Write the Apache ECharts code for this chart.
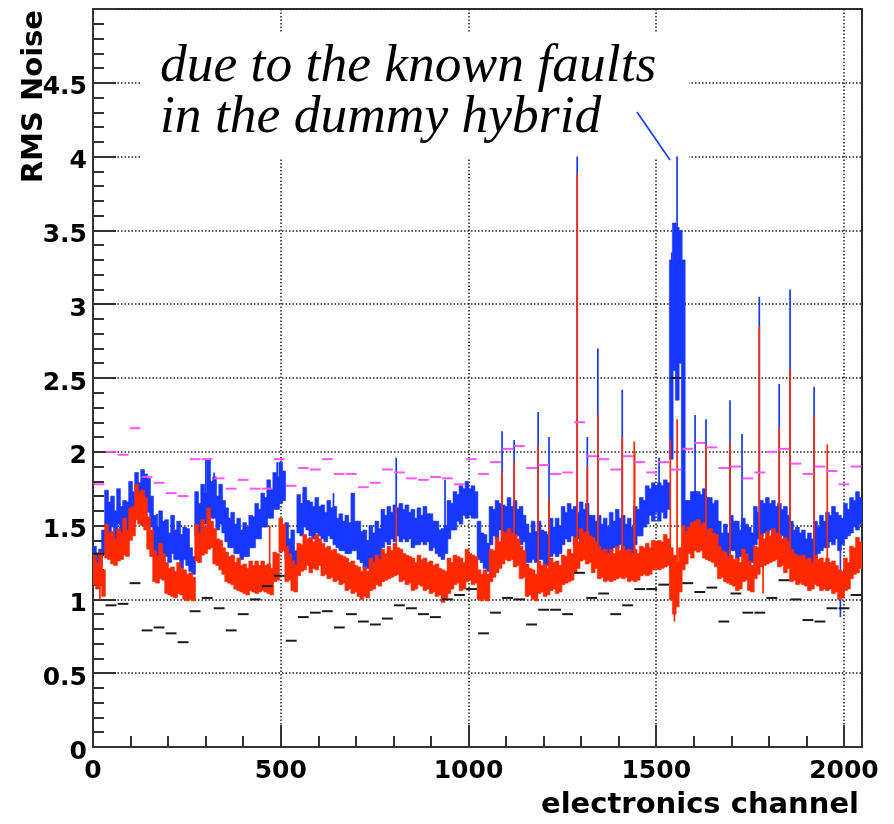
<!DOCTYPE html>
<html><head><meta charset="utf-8">
<script src="https://cdn.jsdelivr.net/npm/echarts@6/dist/echarts.min.js"></script>
<style>html,body{margin:0;padding:0;background:#fff}#c{width:894px;height:824px}</style>
</head><body><div id="c"></div>
<script>
// ---- data ----
const NCH = 2048;          // number of electronics channels
const SEG = 32;            // channels per reference-level segment
const xTickValues = [0, 500, 1000, 1500, 2000];
const yTickValues = [0, 0.5, 1, 1.5, 2, 2.5, 3, 3.5, 4, 4.5];

// RMS noise envelope (upper / lower edge of the noise band), one value per 8 channels
const blueHi = [
1.36,1.30,1.34,1.47, 1.74,1.66,1.70,1.60, 1.75,1.63,1.67,1.66, 1.80,1.73,1.86,1.79,
1.88,1.85,1.82,1.70, 1.57,1.49,1.60,1.53, 1.54,1.45,1.57,1.47, 1.53,1.44,1.49,1.48,
1.35,1.29,1.73,1.65, 1.78,1.72,1.95,1.80, 1.83,1.70,1.78,1.67, 1.62,1.55,1.59,1.51,
1.55,1.47,1.52,1.49, 1.57,1.56,1.65,1.61, 1.72,1.69,1.81,1.75, 1.86,1.83,1.93,1.87,
1.52,1.41,1.47,1.33, 1.71,1.65,1.76,1.67, 1.66,1.63,1.69,1.63, 1.64,1.59,1.67,1.62,
1.63,1.55,1.58,1.53, 1.57,1.52,1.72,1.53, 1.53,1.46,1.47,1.40, 1.50,1.45,1.53,1.48,
1.61,1.57,1.63,1.59, 1.64,1.62,1.65,1.61, 1.64,1.59,1.61,1.55, 1.62,1.57,1.63,1.58,
1.58,1.53,1.53,1.47, 1.48,1.50,1.67,1.65, 1.73,1.71,1.77,1.75, 1.80,1.75,1.77,1.73,
1.53,1.45,1.44,1.38, 1.63,1.61,1.67,1.65, 1.64,1.63,1.69,1.63, 1.67,1.61,1.63,1.57,
1.51,1.45,1.53,1.46, 1.53,1.47,1.46,1.44, 1.55,1.49,1.55,1.50, 1.63,1.59,1.65,1.61,
1.63,1.59,1.66,1.61, 1.65,1.57,1.57,1.53, 1.57,1.51,1.55,1.49, 1.59,1.53,1.61,1.55,
1.57,1.51,1.55,1.49, 1.63,1.61,1.69,1.67, 1.77,1.75,1.79,1.77, 1.79,1.77,1.81,1.79,
3.30,3.55,3.52,3.50,3.30, 1.67,1.67,1.73,1.73, 1.73,1.71,1.75,1.69, 1.69,1.65,1.67,
1.53,1.45,1.51,1.45, 1.57,1.53,1.53,1.47, 1.55,1.51,1.49,1.45, 1.63,1.59,1.67,1.65,
1.69,1.65,1.67,1.63, 1.65,1.61,1.63,1.57, 1.53,1.47,1.49,1.45, 1.47,1.41,1.45,1.41,
1.53,1.49,1.57,1.53, 1.59,1.57,1.63,1.59, 1.57,1.55,1.65,1.61, 1.69,1.67,1.73,1.69
];
const blueLo = [
1.24,1.19,1.22,1.31, 1.49,1.45,1.49,1.41, 1.51,1.42,1.47,1.43, 1.57,1.51,1.63,1.58,
1.67,1.65,1.59,1.49, 1.31,1.29,1.35,1.31, 1.29,1.25,1.31,1.27, 1.27,1.21,1.27,1.23,
1.19,1.17,1.43,1.43, 1.51,1.51,1.57,1.55, 1.55,1.47,1.51,1.45, 1.39,1.35,1.35,1.31,
1.31,1.27,1.29,1.29, 1.35,1.35,1.41,1.41, 1.49,1.49,1.55,1.55, 1.61,1.61,1.65,1.67,
1.27,1.21,1.23,1.17, 1.45,1.43,1.49,1.47, 1.43,1.41,1.45,1.43, 1.41,1.39,1.43,1.41,
1.37,1.35,1.33,1.33, 1.31,1.31,1.33,1.33, 1.27,1.25,1.21,1.21, 1.25,1.25,1.27,1.27,
1.35,1.39,1.37,1.41, 1.39,1.43,1.39,1.41, 1.39,1.41,1.35,1.37, 1.37,1.39,1.37,1.39,
1.33,1.35,1.31,1.29, 1.27,1.31,1.41,1.47, 1.47,1.53,1.51,1.57, 1.55,1.57,1.55,1.55,
1.27,1.25,1.21,1.19, 1.37,1.43,1.41,1.47, 1.39,1.45,1.43,1.45, 1.41,1.43,1.37,1.39,
1.25,1.25,1.27,1.25, 1.27,1.27,1.23,1.23, 1.29,1.31,1.29,1.31, 1.37,1.41,1.39,1.43,
1.37,1.41,1.40,1.43, 1.39,1.39,1.35,1.35, 1.31,1.33,1.29,1.31, 1.33,1.35,1.35,1.37,
1.31,1.33,1.29,1.31, 1.37,1.43,1.43,1.49, 1.51,1.57,1.53,1.59, 1.53,1.59,1.55,1.61,
1.95,2.55,2.35,2.60,1.50, 1.43,1.45,1.47,1.51, 1.47,1.49,1.49,1.47, 1.43,1.45,1.41,
1.27,1.27,1.25,1.25, 1.33,1.33,1.27,1.29, 1.31,1.29,1.25,1.25, 1.37,1.41,1.43,1.45,
1.45,1.47,1.43,1.45, 1.41,1.43,1.37,1.39, 1.27,1.29,1.25,1.27, 1.23,1.25,1.21,1.23,
1.27,1.31,1.33,1.35, 1.35,1.39,1.37,1.41, 1.33,1.37,1.41,1.43, 1.45,1.49,1.47,1.51
];
const redHi = [
1.30,1.25,1.32,1.20, 1.51,1.45,1.46,1.41, 1.48,1.45,1.55,1.47, 1.62,1.63,1.78,1.73,
1.74,1.69,1.56,1.47, 1.33,1.29,1.38,1.31, 1.25,1.21,1.22,1.19, 1.25,1.21,1.20,1.17,
1.18,1.15,1.51,1.45, 1.54,1.49,1.62,1.53, 1.48,1.41,1.40,1.35, 1.32,1.29,1.30,1.25,
1.28,1.23,1.24,1.21, 1.26,1.23,1.26,1.23, 1.26,1.23,1.24,1.21, 1.32,1.31,1.55,1.51,
1.36,1.31,1.26,1.23, 1.38,1.37,1.44,1.41, 1.42,1.39,1.44,1.41, 1.38,1.35,1.36,1.33,
1.34,1.31,1.30,1.29, 1.28,1.25,1.26,1.23, 1.22,1.19,1.22,1.19, 1.28,1.25,1.30,1.27,
1.34,1.31,1.36,1.33, 1.38,1.35,1.34,1.31, 1.30,1.29,1.28,1.25, 1.30,1.27,1.28,1.25,
1.26,1.23,1.24,1.21, 1.20,1.19,1.28,1.25, 1.30,1.29,1.28,1.25, 1.34,1.31,1.30,1.29,
1.20,1.17,1.20,1.17, 1.34,1.33,1.42,1.39, 1.46,1.45,1.48,1.45, 1.44,1.41,1.36,1.33,
1.24,1.21,1.20,1.17, 1.26,1.23,1.24,1.21, 1.28,1.25,1.26,1.23, 1.30,1.29,1.34,1.31,
1.42,1.39,1.48,1.45, 1.46,1.43,1.42,1.39, 1.36,1.33,1.34,1.31, 1.34,1.31,1.36,1.33,
1.36,1.33,1.34,1.31, 1.34,1.31,1.36,1.35, 1.38,1.35,1.40,1.39, 1.40,1.39,1.44,1.41,
1.35,1.30,1.25,1.35,1.50, 1.46,1.49,1.52,1.53, 1.54,1.51,1.52,1.47, 1.48,1.45,1.44,
1.36,1.33,1.32,1.29, 1.30,1.27,1.28,1.25, 1.34,1.31,1.26,1.23, 1.36,1.35,1.44,1.41,
1.46,1.43,1.48,1.45, 1.44,1.41,1.42,1.39, 1.34,1.31,1.30,1.29, 1.30,1.27,1.28,1.25,
1.30,1.27,1.28,1.25, 1.28,1.25,1.26,1.23, 1.20,1.19,1.28,1.25, 1.36,1.35,1.42,1.39
];
const redLo = [
1.10,1.07,1.10,1.02, 1.28,1.27,1.24,1.23, 1.26,1.27,1.30,1.29, 1.40,1.43,1.54,1.51,
1.50,1.47,1.34,1.29, 1.12,1.11,1.14,1.13, 1.04,1.03,1.02,1.01, 1.04,1.03,1.00,0.99,
1.00,0.99,1.26,1.25, 1.30,1.31,1.34,1.35, 1.24,1.23,1.20,1.17, 1.12,1.11,1.10,1.07,
1.06,1.05,1.04,1.03, 1.06,1.05,1.04,1.05, 1.06,1.05,1.04,1.03, 1.12,1.13,1.32,1.33,
1.12,1.13,1.06,1.05, 1.16,1.19,1.20,1.23, 1.18,1.21,1.20,1.23, 1.16,1.17,1.14,1.15,
1.12,1.13,1.10,1.11, 1.06,1.07,1.04,1.05, 1.02,1.00,1.02,1.01, 1.06,1.07,1.10,1.09,
1.12,1.13,1.14,1.15, 1.16,1.17,1.12,1.13, 1.10,1.11,1.06,1.07, 1.10,1.09,1.06,1.07,
1.04,1.05,1.02,1.03, 0.98,1.01,1.04,1.07, 1.10,1.11,1.06,1.07, 1.12,1.13,1.10,1.11,
1.00,0.99,1.00,0.99, 1.12,1.15,1.18,1.21, 1.24,1.27,1.26,1.27, 1.22,1.23,1.14,1.15,
1.02,1.03,1.00,0.99, 1.04,1.05,1.02,1.03, 1.06,1.07,1.04,1.05, 1.10,1.11,1.12,1.13,
1.18,1.21,1.26,1.27, 1.24,1.25,1.18,1.21, 1.14,1.15,1.12,1.13, 1.12,1.13,1.14,1.15,
1.14,1.15,1.12,1.13, 1.12,1.13,1.16,1.17, 1.16,1.17,1.20,1.21, 1.20,1.21,1.22,1.23,
1.00,0.90,0.95,1.05,1.20, 1.24,1.31,1.28,1.33, 1.32,1.33,1.28,1.27, 1.26,1.25,1.22,
1.14,1.15,1.12,1.11, 1.10,1.09,1.06,1.07, 1.12,1.13,1.06,1.05, 1.14,1.17,1.22,1.23,
1.24,1.25,1.26,1.27, 1.22,1.23,1.18,1.21, 1.12,1.13,1.10,1.11, 1.10,1.09,1.06,1.07,
1.10,1.09,1.06,1.07, 1.06,1.07,1.04,1.05, 1.00,1.01,1.06,1.07, 1.14,1.17,1.18,1.21
];
// single-channel excursions [channel, value]
const blueSpikes = [[133,1.86],[170,1.58],[300,1.95],[322,1.86],[490,1.93],[560,1.72],[640,1.72],[807,1.96],[937,1.81],
  [1089,2.14],[1121,2.08],[1185,2.27],[1214,2.10],[1289,4.0],[1316,2.10],[1344,2.70],[1409,2.42],[1507,1.96],
  [1541,3.35],[1555,4.0],[1566,3.5],[1603,2.25],[1632,2.22],[1696,2.35],[1728,2.12],[1774,3.05],[1827,2.46],
  [1856,3.10],[1920,2.44],[1990,0.88]];
const redSpikes = [[18,1.00],[245,1.00],[470,1.50],[807,1.63],[940,1.00],[1089,1.87],[1121,1.93],[1185,2.04],[1214,1.68],
  [1289,3.88],[1316,1.90],[1344,2.25],[1409,2.10],[1441,2.07],[1442,2.0],[1537,2.08],[1548,0.85],[1555,2.22],
  [1632,2.05],[1696,2.06],[1774,2.85],[1784,1.04],[1827,2.16],[1856,2.56],[1920,2.24],[1955,2.05],[1990,1.0]];
const magentaLevels = [1.78,2.00,1.98,2.16,1.83,1.79,1.72,1.70,1.95,1.95,1.82,1.75,1.81,1.75,1.75,1.95,
  1.77,1.89,1.88,1.95,1.85,1.85,1.76,1.79,1.88,1.86,1.82,1.81,1.83,1.82,1.78,1.95,
  1.85,1.93,2.02,2.04,1.89,1.91,1.85,1.86,2.20,1.97,1.95,1.88,1.97,1.93,1.86,1.93,
  1.88,2.02,2.06,2.03,1.89,1.90,1.82,1.86,2.00,2.02,1.92,1.85,1.90,1.87,1.78,1.90];
const blackLevels = [1.31,0.96,0.97,1.11,0.79,0.81,0.77,0.71,0.92,1.01,0.94,0.79,0.90,1.00,1.09,1.16,
  0.72,0.88,0.91,0.92,0.81,0.90,0.85,0.83,0.87,0.96,0.94,0.90,0.88,1.00,1.03,1.07,
  0.77,0.91,1.01,1.00,0.83,0.93,0.93,0.90,1.18,1.01,1.04,0.90,0.96,1.07,1.07,1.10,
  2.50,1.11,1.05,1.08,0.85,1.04,0.91,0.91,1.01,1.13,1.00,0.86,0.85,0.94,0.94,1.03];

// ---- build ----
function bandSeries(hi, lo, color, z){
  const bw = NCH / hi.length;
  return {type:'custom', z, clip:true, encode:{x:0, y:[1,2]},
    data: hi.map((h,i)=>[i*bw, lo[i], h]),
    renderItem:(p, api)=>{
      const x0=api.value(0);
      const a=api.coord([x0, api.value(2)]), b=api.coord([x0+bw, api.value(1)]);
      return {type:'rect', shape:{x:a[0]-0.4, y:a[1], width:b[0]-a[0]+0.8, height:b[1]-a[1]},
        style:{fill:color, stroke:color, lineWidth:0.6}};
    }};
}
function spikeSeries(spikes, hi, lo, color, z){
  const bw = NCH / hi.length;
  return {type:'custom', z, clip:true, encode:{x:0, y:1},
    data: spikes.map(([c,v])=>{ const i=Math.floor(c/bw); return [c, v, (hi[i]+lo[i])/2]; }),
    renderItem:(p, api)=>{
      const c=api.value(0);
      const a=api.coord([c+0.5, api.value(2)]), b=api.coord([c+0.5, api.value(1)]);
      return {type:'line', shape:{x1:a[0],y1:a[1],x2:b[0],y2:b[1]}, style:{stroke:color, lineWidth:1.7}};
    }};
}
function segSeries(levels, color){
  return {type:'custom', z:8, clip:true, encode:{x:0,y:1},
    data: levels.map((v,i)=>[i*SEG, v]),
    renderItem:(p, api)=>{
      const x0=api.value(0), v=api.value(1);
      const a=api.coord([x0,v]), b=api.coord([x0+SEG,v]);
      return {type:'line', shape:{x1:a[0]+0.6,y1:a[1],x2:b[0]-0.6,y2:b[1]}, style:{stroke:color,lineWidth:2}};
    }};
}
const BLUE='#1838ff', RED='#ff2a00', MAG='#ff55ff', BLK='#1a1a1a';
const font='"DejaVu Sans", sans-serif';
const chart = echarts.init(document.getElementById('c'), null, {renderer:'canvas'});
chart.setOption({
  animation:false,
  backgroundColor:'#fff',
  grid:{left:93, right:32, top:9, bottom:77, show:true, borderColor:'#333', borderWidth:2, backgroundColor:'transparent'},
  xAxis:[{type:'value', min:0, max:NCH, interval:500, position:'bottom',
    axisLine:{lineStyle:{color:'#333',width:2}},
    axisTick:{inside:true, length:22, lineStyle:{color:'#333',width:2}},
    axisLabel:{color:'#000', fontFamily:font, fontWeight:'bold', fontSize:25, margin:12, showMaxLabel:false,
      formatter:v=>xTickValues.includes(v)?String(v):''},
    splitLine:{show:true, lineStyle:{color:'#222', type:[1.5,2], width:1.5}}},
   {type:'value', min:0, max:NCH, interval:100, position:'bottom',
    axisLine:{show:false}, axisLabel:{show:false}, splitLine:{show:false},
    axisTick:{inside:true, length:11, lineStyle:{color:'#333',width:2}}}],
  yAxis:{type:'value', min:0, max:5, interval:0.5,
    axisLine:{show:true, lineStyle:{color:'#333',width:2}},
    axisTick:{show:true, inside:true, length:23, lineStyle:{color:'#333',width:2}},
    minorTick:{show:true, splitNumber:5, length:11, lineStyle:{color:'#333',width:2}},
    axisLabel:{color:'#000', fontFamily:font, fontWeight:'bold', fontSize:25, margin:6, showMaxLabel:false,
      verticalAlign:'top', lineHeight:10, formatter:v=>yTickValues.includes(v)?String(v):''},
    splitLine:{show:true, lineStyle:{color:'#222', type:[1.5,2], width:1.5}}},
  series:[
    bandSeries(blueHi, blueLo, BLUE, 2),
    spikeSeries(blueSpikes, blueHi, blueLo, BLUE, 3),
    bandSeries(redHi, redLo, RED, 4),
    spikeSeries(redSpikes, redHi, redLo, RED, 5),
    segSeries(magentaLevels, MAG),
    segSeries(blackLevels, BLK)
  ],
  graphic:[
    {type:'rect', z:1, shape:{x:142, y:33, width:547, height:125}, style:{fill:'#fff'}},
    {type:'text', z:10, x:160, y:67, style:{text:'due to the known faults', font:'italic 53.5px "Liberation Serif", serif', fill:'#000', verticalAlign:'middle'}},
    {type:'text', z:10, x:160, y:118, style:{text:'in the dummy hybrid', font:'italic 53.5px "Liberation Serif", serif', fill:'#000', verticalAlign:'middle'}},
    {type:'line', z:10, shape:{x1:637,y1:112,x2:670,y2:160}, style:{stroke:BLUE, lineWidth:1.6}},
    {type:'text', z:10, x:34, y:10, rotation:Math.PI/2, style:{text:'RMS Noise', font:'bold 29px '+font, fill:'#000', align:'right', verticalAlign:'middle'}},
    {type:'text', z:10, x:859, y:805, style:{text:'electronics channel', font:'bold 29px '+font, fill:'#000', align:'right', verticalAlign:'middle'}}
  ]
});
</script></body></html>
